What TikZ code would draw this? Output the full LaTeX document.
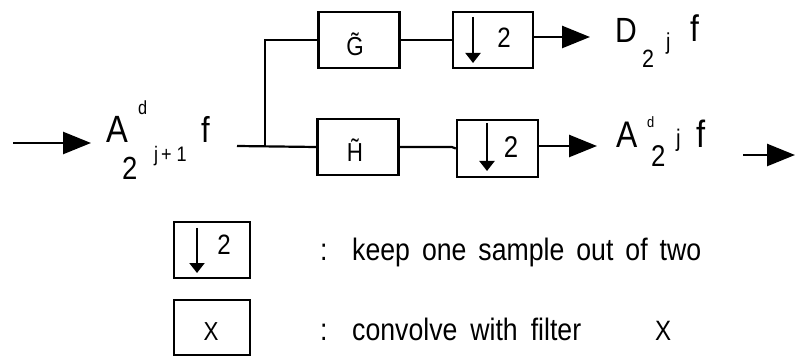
\documentclass[tikz,border=0pt]{standalone}
\usepackage{fontspec}
\setmainfont[FakeStretch=0.86]{Liberation Sans}
\usetikzlibrary{arrows.meta,calc}
\newcommand{\fsz}[1]{\fontsize{#1}{#1}\selectfont}
\tikzset{
  blk/.style={draw, line width=2.4pt, inner sep=0pt},
  wire/.style={line width=2.2pt},
  sig/.style={line width=2.6pt, -{Triangle[length=28pt,width=22pt]}},
  dn/.style={line width=2pt, -{Triangle[length=10pt,width=15pt]}},
  lbl/.style={inner sep=0pt, anchor=base west},
  ctr/.style={inner sep=0pt}
}
\begin{document}
\begin{tikzpicture}[x=1pt,y=-1pt]
\fill[white] (0,0) rectangle (795,358);
\useasboundingbox (0,0) rectangle (795,358);

% input
\coordinate (inS) at (13,143);
\coordinate (inE) at (91,143);
\draw[sig] (inS) -- (inE);
\node[lbl,font=\fsz{38}] (ainA) at (106,143) {A};
\node[lbl,font=\fsz{19}] (aind) at (138,115) {d};
\node[lbl,font=\fsz{32}] (ain2) at (122,180) {2};
\node[lbl,font=\fsz{21}] (ainj) at (154,162) {j\hspace{3pt}+\hspace{5pt}1};
\node[lbl,font=\fsz{36}] (ainf) at (201,143) {f};

% filter boxes
\node[blk, minimum width=81pt, minimum height=56pt] (G) at (359,40) {};
\node[blk, minimum width=81pt, minimum height=56pt] (H) at (358,147) {};
\node[ctr,font=\fsz{26}] (Gl) at (355,44) {\~{G}};
\node[ctr,font=\fsz{26}] (Hl) at (355,150) {\~{H}};

% downsample boxes
\node[blk, minimum width=80pt, minimum height=56pt] (D1) at (493,40) {};
\node[blk, minimum width=81pt, minimum height=57pt] (D2) at (497.5,148.5) {};
\coordinate (d1a) at (473,17);
\coordinate (d1b) at (473,63);
\draw[dn] (d1a) -- (d1b);
\node[ctr,font=\fsz{28}] (d1t) at (504,38) {2};
\coordinate (d2a) at (487,123);
\coordinate (d2b) at (487,171);
\draw[dn] (d2a) -- (d2b);
\node[ctr,font=\fsz{30}] (d2t) at (511,147) {2};

% split
\coordinate (sp0) at (237,146);
\coordinate (spJ) at (265,146);
\draw[wire] (sp0) -- (H.west);
\draw[wire] (spJ) |- (G.west);
\draw[wire] (G.east) -- (D1.west);
\draw[wire] (H.east) -- (D1.west |- H.east) -- (D2.west);

% outputs
\coordinate (o1) at (590,37);
\coordinate (o2) at (597,146);
\draw[sig] (D1.east |- o1) -- (o1);
\draw[sig] (D2.east |- o2) -- (o2);

\node[lbl,font=\fsz{35}] (dD) at (615,43) {D};
\node[lbl,font=\fsz{25}] (d2) at (642,68) {2};
\node[lbl,font=\fsz{23}] (dj) at (666,50) {j};
\node[lbl,font=\fsz{37}] (df) at (690,42) {f};

\node[lbl,font=\fsz{37}] (aoA) at (616,148) {A};
\node[lbl,font=\fsz{15}] (aod) at (647,128) {d};
\node[lbl,font=\fsz{30}] (ao2) at (651,167) {2};
\node[lbl,font=\fsz{24}] (aoj) at (676,147) {j};
\node[lbl,font=\fsz{38}] (aof) at (696,148) {f};

\coordinate (x1) at (743,155);
\coordinate (x2) at (795,155);
\draw[sig] (x1) -- (x2);

% legend
\node[blk, minimum width=76pt, minimum height=56pt] (L1) at (212,250) {};
\coordinate (l1a) at (197,228);
\coordinate (l1b) at (197,273);
\draw[dn] (l1a) -- (l1b);
\node[ctr,font=\fsz{28}] (l1t) at (224,245) {2};
\node[blk, minimum width=76pt, minimum height=55pt] (L2) at (212,327.5) {};
\node[ctr,font=\fsz{26}] (l2t) at (211,332) {X};

\node[lbl,font=\fsz{31}] (c1) at (320,260) {:};
\node[lbl,font=\fsz{31}] (t1) at (352,260) {\spaceskip=12pt\relax keep one sample out of two};
\node[lbl,font=\fsz{31}] (c2) at (320,340) {:};
\node[lbl,font=\fsz{31}] (t2) at (352,340) {\spaceskip=13pt\relax convolve with filter};
\node[lbl,font=\fsz{28}] (t3) at (655,340) {X};
\end{tikzpicture}
\end{document}
